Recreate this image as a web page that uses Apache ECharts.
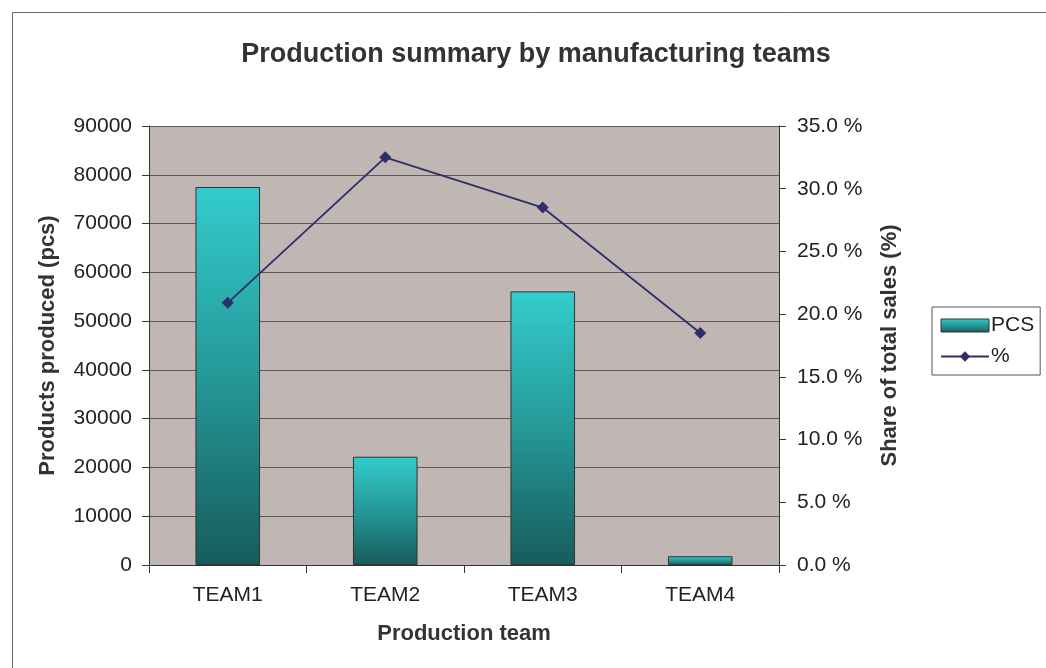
<!DOCTYPE html>
<html>
<head>
<meta charset="utf-8">
<script src="https://cdn.jsdelivr.net/npm/echarts@6/dist/echarts.min.js"></script>
<style>
html,body{margin:0;padding:0;background:#fff;}
#c{width:1046px;height:668px;}
</style>
</head>
<body>
<div id="c"></div>
<script>
const categories = ['TEAM1', 'TEAM2', 'TEAM3', 'TEAM4'];
const pcsValues = [77500, 22200, 56100, 1800];
const shareValues = [20.9, 32.5, 28.5, 18.5];

const FONT = '"Liberation Sans", Arial, sans-serif';
const chart = echarts.init(document.getElementById('c'));
const barGrad = new echarts.graphic.LinearGradient(0, 0, 0, 1, [
  {offset: 0, color: '#33CCCC'},
  {offset: 0.5, color: '#259898'},
  {offset: 1, color: '#175C5C'}
]);
chart.setOption({
  backgroundColor: '#ffffff',
  animation: false,
  textStyle: {fontFamily: FONT},
  title: {
    text: 'Production summary by manufacturing teams',
    left: 531, top: 36, textAlign: 'center',
    textStyle: {fontFamily: FONT, fontSize: 27, fontWeight: 'bold', color: '#333333'}
  },
  graphic: [
    {type: 'rect', shape: {x: 12.5, y: 12.5, width: 1060, height: 700},
     style: {fill: 'none', stroke: '#666666', lineWidth: 1}, silent: true, z: -1}
  ],
  legend: {
    orient: 'vertical',
    left: 932, top: 307,
    width: 108,
    padding: [8, 6, 8, 8],
    itemGap: 10,
    itemWidth: 48, itemHeight: 13,
    borderColor: '#555555', borderWidth: 1,
    backgroundColor: '#ffffff',
    textStyle: {fontFamily: FONT, fontSize: 21, color: '#222222', padding: [0,0,0,-3]},
    data: [
      {name: 'PCS', icon: 'rect', itemStyle: {borderColor: '#333', borderWidth: 1}},
      {name: '%'}
    ]
  },
  grid: {left: 149, right: 267, top: 126, bottom: 103, show: true,
         backgroundColor: '#C0B7B4', borderColor: '#C0B7B4', borderWidth: 0},
  xAxis: {
    type: 'category',
    data: categories,
    name: 'Production team',
    nameLocation: 'middle',
    nameGap: 58,
    nameTextStyle: {fontFamily: FONT, fontSize: 22, fontWeight: 'bold', color: '#333'},
    axisLine: {lineStyle: {color: '#333', width: 1}},
    axisTick: {show: true, length: 8, lineStyle: {color: '#333'}, alignWithLabel: false},
    axisLabel: {fontFamily: FONT, fontSize: 21, color: '#222', margin: 20}
  },
  yAxis: [
    {
      type: 'value', min: 0, max: 90000, interval: 10000,
      name: 'Products produced (pcs)',
      nameLocation: 'middle', nameGap: 90,
      nameTextStyle: {fontFamily: FONT, fontSize: 22, fontWeight: 'bold', color: '#333'},
      axisLine: {show: true, lineStyle: {color: '#333'}},
      axisTick: {show: true, length: 7, lineStyle: {color: '#333'}},
      axisLabel: {fontFamily: FONT, fontSize: 21, color: '#222', margin: 17,
                  formatter: v => String(v)},
      splitLine: {show: true, lineStyle: {color: '#5E5858', width: 1}}
    },
    {
      type: 'value', min: 0, max: 35, interval: 5,
      position: 'right',
      name: 'Share of total sales (%)',
      nameLocation: 'middle', nameGap: 100, nameRotate: 90,
      nameTextStyle: {fontFamily: FONT, fontSize: 22, fontWeight: 'bold', color: '#333'},
      axisLine: {show: true, lineStyle: {color: '#333'}},
      axisTick: {show: true, length: 7, lineStyle: {color: '#333'}},
      axisLabel: {fontFamily: FONT, fontSize: 21, color: '#222', margin: 18,
                  formatter: v => v.toFixed(1) + ' %'},
      splitLine: {show: false}
    }
  ],
  series: [
    {
      name: 'PCS', type: 'bar', data: pcsValues, yAxisIndex: 0,
      barWidth: '41%',
      itemStyle: {color: barGrad, borderColor: '#333333', borderWidth: 1}
    },
    {
      name: '%', type: 'line', data: shareValues, yAxisIndex: 1,
      symbol: 'diamond', symbolSize: 12,
      lineStyle: {color: '#2E2E6A', width: 1.8},
      itemStyle: {color: '#2E2E6A'}
    }
  ]
});
</script>
</body>
</html>
